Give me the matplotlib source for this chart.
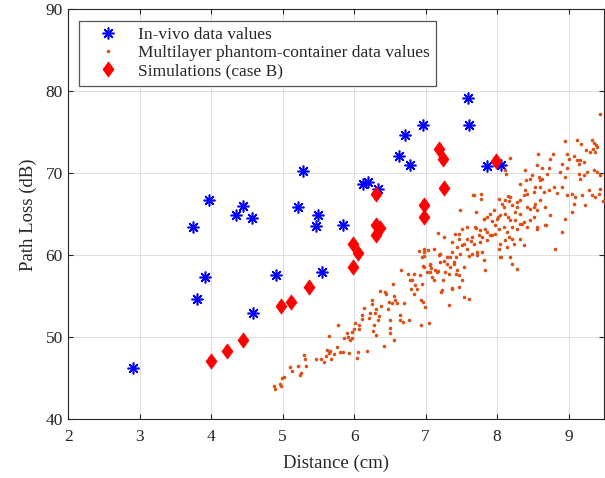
import numpy as np
import matplotlib
matplotlib.use("Agg")
import matplotlib.pyplot as plt

# in-vivo measurements (blue asterisks)
invivo_dist = [2.91, 3.74, 3.80, 3.91, 3.97, 4.35, 4.44, 4.57, 4.58, 4.91, 5.22, 5.29, 5.46, 5.50,
               5.55, 5.84, 6.13, 6.20, 6.34, 6.63, 6.71, 6.78, 6.97, 7.60, 7.61, 7.86, 8.06]
invivo_pl = [46.2, 63.5, 54.7, 57.4, 66.8, 64.9, 66.05, 64.5, 52.96, 57.64, 65.85, 70.28, 63.6, 64.87,
             57.93, 63.73, 68.73, 68.94, 68.1, 72.1, 74.67, 70.98, 75.89, 79.15, 75.89, 70.93, 71.05]

# simulations case B (red diamonds)
sim_dist = [3.99, 4.22, 4.45, 4.98, 5.11, 5.37, 5.99, 6.06, 5.99, 6.31, 6.31, 6.36, 6.31,
            6.98, 6.98, 7.19, 7.24, 7.26, 7.98]
sim_pl = [47.14, 48.32, 49.63, 53.78, 54.3, 56.17, 61.37, 60.24, 58.57, 67.44, 63.7, 63.3, 62.5,
          66.13, 64.71, 72.93, 71.74, 68.17, 71.54]

# multilayer phantom-container measurements (orange dots)
phantom_dist = [
    4.874, 4.897, 4.958, 4.981, 4.991, 5.014, 5.107, 5.126, 5.21, 5.238, 5.261, 5.294, 5.312, 5.322,
    5.471, 5.541, 5.573, 5.601, 5.62, 5.643, 5.643, 5.667, 5.681, 5.713, 5.76, 5.769, 5.807, 5.849,
    5.858, 5.895, 5.918, 5.928, 5.937, 5.97, 5.974, 5.998, 6.007, 6.04, 6.058, 6.068, 6.072, 6.11,
    6.105, 6.142, 6.18, 6.203, 6.226, 6.25, 6.254, 6.263, 6.273, 6.291, 6.301, 6.31, 6.329, 6.343,
    6.357, 6.375, 6.422, 6.436, 6.45, 6.469, 6.483, 6.497, 6.497, 6.506, 6.529, 6.543, 6.552, 6.562,
    6.571, 6.599, 6.636, 6.646, 6.683, 6.702, 6.748, 6.772, 6.795, 6.809, 6.832, 6.841, 6.855, 6.879,
    6.902, 6.916, 6.93, 6.935, 6.949, 6.963, 6.972, 6.981, 6.995, 7.042, 7.065, 7.079, 7.112, 7.135,
    7.172, 7.205, 7.219, 7.242, 7.266, 7.322, 7.336, 7.368, 7.392, 7.429,
    9.434, 8.944, 9.117, 9.172, 9.326, 9.35, 9.387, 9.34, 9.373, 9.396, 9.247, 9.303, 8.566, 8.781,
    8.734, 8.977, 9.0, 9.07, 9.117, 9.14, 9.163, 9.21, 8.175, 8.114, 8.385, 8.557, 8.627, 8.72,
    8.697, 8.884, 8.954, 8.907, 8.977, 9.14, 9.163, 9.21, 9.256, 9.35, 9.396, 9.443, 9.48, 8.324,
    8.408, 8.455, 8.487, 8.58, 8.604, 8.627, 8.394, 8.417, 8.51, 8.534, 8.604, 8.65, 8.72, 8.79,
    8.837, 8.907, 8.977, 9.047, 9.093, 9.186, 9.233, 9.28, 9.326, 9.373, 9.42, 9.443, 7.671, 7.774,
    7.779, 8.021, 8.114, 8.147, 8.184, 8.277, 8.371, 8.324, 8.277, 8.068, 8.091, 8.207, 8.254, 8.324,
    8.417, 8.464, 8.51, 8.534, 8.557, 8.604, 8.674, 8.744, 8.954, 9.07, 9.047, 7.709, 7.811, 7.858,
    7.904, 7.951, 7.998, 8.044, 8.114, 8.147, 8.184, 8.254, 8.324, 8.371, 8.417, 8.464, 8.51, 8.557,
    8.674, 7.476, 7.508, 7.578, 7.695, 7.765, 7.834, 7.904, 7.974, 8.021, 8.091, 8.138, 8.207, 8.277,
    8.347, 8.557, 8.688, 8.907, 7.168, 7.252, 7.415, 7.462, 7.578, 7.648, 7.741, 7.671, 7.765, 7.788,
    7.858, 7.928, 7.974, 8.044, 8.114, 8.16, 8.207, 8.231, 8.324, 8.371, 8.021, 8.138, 8.044, 8.175,
    8.207, 8.277, 8.81, 7.368, 7.438, 7.508, 7.485, 7.578, 7.648, 7.718, 7.811, 7.788, 6.972, 7.028,
    7.508, 7.531, 7.531, 7.601, 7.825,
    6.949, 7.019, 7.065, 7.089, 7.159, 7.205, 7.182, 7.298, 7.345, 7.392, 7.438, 7.462, 7.368, 7.462,
    7.228, 6.657, 6.779, 6.97, 6.979, 7.119, 7.198, 7.259, 7.305, 7.329, 7.375, 7.422, 7.469, 7.058,
    7.538, 7.608, 7.632, 7.702, 7.725, 7.818, 7.865, 7.935, 8.014, 8.051, 8.121, 8.168, 7.669]
phantom_pl = [
    44.01, 43.72, 44.29, 44.01, 44.98, 45.14, 46.36, 45.83, 46.56, 45.38, 45.63, 47.89, 47.41, 46.48,
    47.37, 47.37, 47.0, 47.73, 48.46, 50.16, 48.06, 48.3, 47.33, 47.94, 48.79, 51.5, 48.18, 48.22,
    49.96, 50.49, 50.0, 48.06, 49.68, 50.61, 49.88, 50.97, 51.78, 47.53, 48.26, 50.97, 51.5, 52.67,
    52.19, 53.52, 48.38, 52.31, 52.91, 54.61, 54.01, 50.81, 51.5, 52.91, 53.48, 50.28, 52.11, 52.63,
    55.67, 53.81, 48.91, 55.51, 55.3, 53.4, 54.33, 51.17, 52.11, 50.57, 54.13, 56.56, 55.02, 49.68,
    54.53, 54.21, 52.71, 52.11, 51.9, 54.21, 57.77, 52.11, 55.95, 57.04, 57.77, 55.26, 56.36, 55.95,
    60.49, 57.57, 51.46, 54.53, 56.56, 54.33, 59.88, 58.58, 53.72, 51.78, 58.99, 58.5, 56.96, 58.18,
    58.1, 60.2, 55.55, 56.96, 57.98, 53.93, 59.8, 56.03, 58.91, 57.77,
    77.28, 73.94, 74.11, 73.62, 74.11, 73.7, 73.41, 73.0, 72.6, 73.2, 72.8, 72.6, 72.32, 72.4,
    71.79, 72.4, 71.79, 72.07, 71.59, 71.18, 71.67, 71.38, 71.87, 70.37, 70.37, 70.98, 70.69, 70.69,
    69.96, 70.16, 69.55, 71.18, 70.69, 69.96, 69.35, 69.76, 70.16, 70.37, 70.16, 69.76, 66.59, 68.66,
    69.15, 69.35, 69.76, 69.55, 69.15, 69.27, 67.93, 67.52, 67.72, 68.33, 68.33, 67.72, 67.93, 68.33,
    67.6, 68.33, 67.32, 67.52, 67.11, 67.32, 66.1, 67.93, 67.32, 67.11, 67.52, 68.13, 67.32, 67.52,
    66.91, 66.91, 66.71, 67.24, 67.11, 66.5, 67.32, 66.71, 65.89, 66.3, 65.89, 66.1, 65.28, 65.08,
    65.89, 65.69, 65.89, 66.3, 65.49, 66.71, 65.89, 64.88, 64.47, 66.3, 65.28, 65.28, 64.47, 64.67,
    65.08, 65.49, 64.47, 64.88, 65.08, 64.67, 64.27, 64.27, 63.86, 64.06, 63.46, 64.27, 64.67, 63.46,
    63.66, 65.57, 63.25, 63.46, 63.46, 63.05, 63.25, 62.44, 63.66, 63.25, 63.46, 62.85, 63.46, 63.25,
    63.86, 63.25, 63.66, 62.85, 62.72, 62.24, 62.64, 62.03, 62.03, 62.24, 62.44, 61.42, 61.63, 62.24,
    61.83, 62.44, 62.64, 61.42, 61.83, 62.24, 62.03, 61.42, 62.03, 61.22, 60.81, 61.02, 59.8, 59.8,
    58.98, 58.37, 60.81, 61.63, 61.02, 61.22, 60.2, 60.81, 60.2, 59.99, 59.39, 60.4, 60.81, 60.69,
    56.95, 58.58, 54.92, 54.72, 58.17,
    59.8, 57.97, 58.78, 57.36, 57.97, 59.19, 60.0, 59.8, 58.58, 59.19, 58.17, 57.56, 55.93, 56.14,
    55.73, 58.25, 57.03, 58.66, 60.37, 60.77, 60.16, 59.35, 58.94, 57.72, 60.37, 59.76, 62.6, 57.93,
    61.38, 59.96, 61.79, 63.29, 60.37, 64.43, 62.8, 64.23, 64.63, 59.76, 69.92, 66.67, 67.36]

x_ticks = [2, 3, 4, 5, 6, 7, 8, 9]
y_ticks = [40, 50, 60, 70, 80, 90]

plt.rcParams['font.family'] = ['Liberation Serif', 'DejaVu Serif']
TXT = '#262626'

fig = plt.figure(figsize=(6.05, 4.78), dpi=100)
ax = fig.add_axes([0.1129, 0.1228, 0.8859, 0.8577])

asterisk = (8, 2, 0)
diamond = [(0, 1), (0.72, 0), (0, -1), (-0.72, 0), (0, 1)]

ax.plot(invivo_dist, invivo_pl, linestyle='none', marker=asterisk, markersize=8.5,
        markeredgewidth=1.15, color='#0000ff', label='In-vivo data values', zorder=3)
ax.plot(phantom_dist, phantom_pl, linestyle='none', marker='o', markersize=2.6,
        markeredgewidth=0, color='#d95319', label='Multilayer phantom-container data values', zorder=3)
ax.plot(sim_dist, sim_pl, linestyle='none', marker=diamond, markersize=11,
        markeredgewidth=0.5, color='#ff0000', label='Simulations (case B)', zorder=4)

ax.set_xlim(2, 9.5)
ax.set_ylim(40, 90)
ax.set_xticks(x_ticks)
ax.set_yticks(y_ticks)
ax.grid(True, color='#dedede', linewidth=0.7)
ax.set_axisbelow(True)

for s in ax.spines.values():
    s.set_color(TXT)
    s.set_linewidth(0.8)
ax.tick_params(direction='in', length=3.8, width=0.8, colors=TXT, labelsize=12.5,
               top=True, right=True)
ax.tick_params(axis='x', pad=7)
ax.tick_params(axis='y', pad=4)

ax.set_xlabel('Distance (cm)', fontsize=13.5, color=TXT, labelpad=7)
ax.set_ylabel('Path Loss (dB)', fontsize=13.5, color=TXT, labelpad=6)

leg = ax.legend(loc='upper left', bbox_to_anchor=(0.02, 0.972), borderaxespad=0,
                fontsize=12.5, fancybox=False, framealpha=1, edgecolor='#555555',
                handlelength=2.6, handletextpad=0.45, borderpad=0.35, labelspacing=0.12,
                markerscale=1.0)
leg.get_frame().set_linewidth(0.9)
for t in leg.get_texts():
    t.set_color(TXT)

fig.savefig('out.png', dpi=100)
